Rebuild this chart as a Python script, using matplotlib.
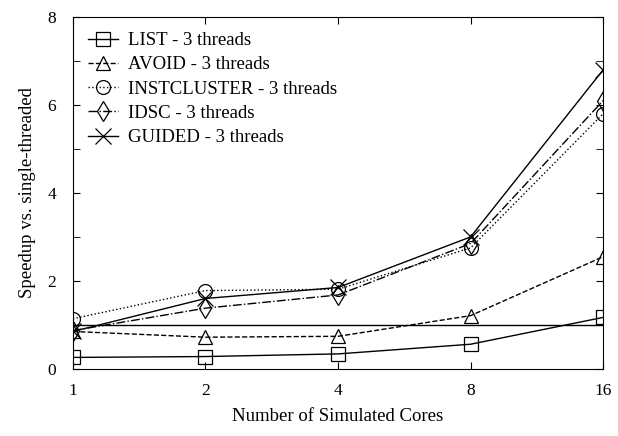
import numpy as np
import matplotlib
matplotlib.use('Agg')
import matplotlib.pyplot as plt

plt.rcParams['font.family'] = ['Liberation Serif', 'DejaVu Serif']

# simulated core counts and speedups (3 threads)
cores = [1, 2, 4, 8, 16]
list_speedup = [0.26, 0.28, 0.34, 0.56, 1.17]
avoid_speedup = [0.85, 0.72, 0.74, 1.21, 2.55]
instcluster_speedup = [1.14, 1.78, 1.81, 2.75, 5.8]
idsc_speedup = [0.87, 1.38, 1.68, 2.85, 6.1]
guided_speedup = [0.85, 1.6, 1.85, 3.0, 6.8]

fig = plt.figure(figsize=(6.18, 4.36), dpi=100)
ax = fig.add_axes([0.118, 0.154, 0.858, 0.807])

x = np.log2(cores)
style = dict(color='black', lw=1.0, markersize=10, fillstyle='none', mew=0.9)
ax.plot(x, list_speedup, ls='-', marker='s', label='LIST - 3 threads', **style)
ax.plot(x, avoid_speedup, ls='--', marker='^', label='AVOID - 3 threads', **style)
ax.plot(x, instcluster_speedup, ls=':', marker='o', label='INSTCLUSTER - 3 threads', **style)
ax.plot(x, idsc_speedup, ls='-.', marker='d', label='IDSC - 3 threads', **style)
ax.plot(x, guided_speedup, ls='-', marker='x', label='GUIDED - 3 threads',
        color='black', lw=1.0, markersize=11, mew=0.9)

# single-threaded baseline
ax.axhline(1.0, color='black', lw=1.0)

ax.set_xlim(0, 4)
ax.set_ylim(0, 8)
ax.set_xticks(x)
ax.set_xticklabels([str(c) for c in cores])
ax.set_yticks([0, 2, 4, 6, 8])
ax.set_yticks([1, 3, 5, 7], minor=True)
ax.tick_params(direction='in', top=True, right=True, labelsize=12.5, length=5)
ax.tick_params(axis='y', pad=12)
ax.tick_params(axis='x', pad=10)
ax.tick_params(which='minor', direction='in', right=True, length=5)
ax.set_xlabel('Number of Simulated Cores', fontsize=13.5, labelpad=7)
ax.set_ylabel('Speedup vs. single-threaded', fontsize=13.5, labelpad=8)

ax.legend(loc='upper left', frameon=False, fontsize=13.5, handlelength=1.6,
          handletextpad=0.55, labelspacing=0.38, borderaxespad=0.4)

fig.savefig('out.png', dpi=100)
